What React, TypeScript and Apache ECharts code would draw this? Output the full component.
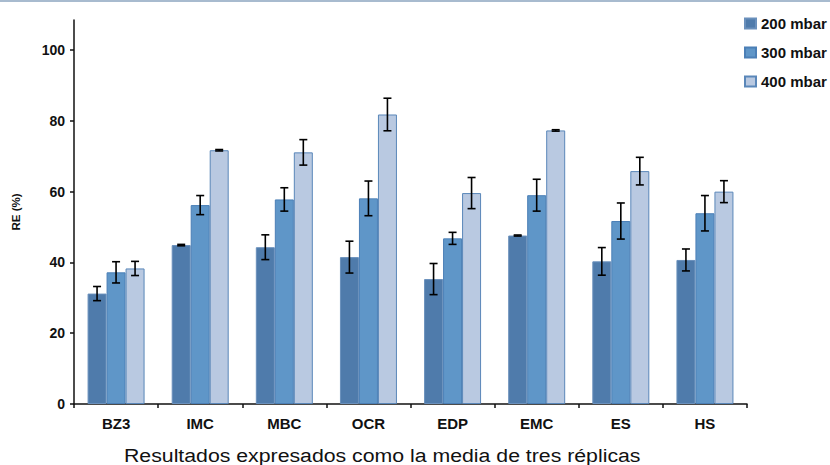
import React, { useEffect, useRef } from "react";
import * as echarts from "echarts";

const categories = ["BZ3", "IMC", "MBC", "OCR", "EDP", "EMC", "ES", "HS"];
const seriesNames = ["200 mbar", "300 mbar", "400 mbar"];
const values200 = [31.2, 44.9, 44.3, 41.5, 35.3, 47.6, 40.3, 40.7];
const values300 = [37.2, 56.2, 57.8, 58.1, 46.8, 59.0, 51.7, 53.9];
const values400 = [38.3, 71.7, 71.1, 81.8, 59.6, 77.3, 65.8, 60.0];
const err200 = [2.0, 0.2, 3.5, 4.5, 4.4, 0.15, 3.9, 3.1];
const err300 = [3.0, 2.7, 3.3, 4.9, 1.7, 4.5, 5.1, 5.0];
const err400 = [2.0, 0.2, 3.6, 4.6, 4.4, 0.2, 3.9, 3.1];
const yTicks = [0, 20, 40, 60, 80, 100];
const xTitle = "Resultados expresados como la media de tres réplicas";
const yTitle = "RE (%)";

const FONT = "'Liberation Sans', Arial, Helvetica, sans-serif";
const BAR_W = 19;

export default function App() {
  const ref = useRef<HTMLDivElement>(null);
  useEffect(() => {
    if (!ref.current) return;
    const chart = echarts.init(ref.current, undefined, { renderer: "svg" });
    const values = [values200, values300, values400];
    const errs = [err200, err300, err400];
    const fills = ["#4F7BAB", "#5F96C8", "#B9C9E1"];
    const borders = ["#6A90BC", "#4B7FB6", "#5A87B9"];

    const barSeries = values.map((vals, i) => ({
      name: seriesNames[i],
      type: "bar",
      data: vals,
      barWidth: BAR_W,
      barGap: "0%",
      itemStyle: { color: fills[i], borderColor: borders[i], borderWidth: 1 },
      z: 2,
    }));

    const errSeries = values.map((vals, i) => ({
      name: seriesNames[i] + " err",
      type: "custom",
      data: vals.map((v, j) => [j, v, errs[i][j]]),
      encode: { x: 0, y: 1 },
      z: 5,
      silent: true,
      renderItem: (params: any, api: any) => {
        const idx = api.value(0);
        const v = api.value(1);
        const e = api.value(2);
        const off = (i - 1) * BAR_W;
        const hi = api.coord([idx, v + e]);
        const lo = api.coord([idx, v - e]);
        const x = hi[0] + off;
        const cap = 4;
        const style = { stroke: "#000", lineWidth: 1.6 };
        return {
          type: "group",
          children: [
            { type: "line", shape: { x1: x, y1: hi[1], x2: x, y2: lo[1] }, style },
            { type: "line", shape: { x1: x - cap, y1: hi[1], x2: x + cap, y2: hi[1] }, style },
            { type: "line", shape: { x1: x - cap, y1: lo[1], x2: x + cap, y2: lo[1] }, style },
          ],
        };
      },
    }));

    chart.setOption({
      animation: false,
      backgroundColor: "#ffffff",
      textStyle: { fontFamily: FONT },
      grid: { left: 74, right: 83, top: 20, bottom: 61, containLabel: false },
      legend: {
        data: seriesNames,
        orient: "vertical",
        left: 739,
        top: 11,
        itemWidth: 11,
        itemHeight: 10,
        itemGap: 14,
        icon: "rect",
        textStyle: { fontFamily: FONT, fontSize: 15, fontWeight: "bold", color: "#111" },
      },
      xAxis: {
        type: "category",
        data: categories,
        axisLine: { lineStyle: { color: "#111", width: 1.5 } },
        axisTick: { show: true, length: 4, lineStyle: { color: "#111", width: 1.5 } },
        axisLabel: { fontFamily: FONT, fontSize: 15, fontWeight: "bold", color: "#111", margin: 12 },
      },
      yAxis: {
        type: "value",
        min: 0,
        max: 108.5,
        interval: 20,
        name: yTitle,
        nameLocation: "middle",
        nameGap: 52,
        nameTextStyle: { fontFamily: FONT, fontSize: 11.5, fontWeight: "bold", color: "#111" },
        axisLine: { show: true, lineStyle: { color: "#111", width: 1.5 } },
        axisTick: { show: true, length: 4, customValues: yTicks, lineStyle: { color: "#111", width: 1.5 } },
        axisLabel: {
          customValues: yTicks,
          fontFamily: FONT,
          fontSize: 14,
          fontWeight: "bold",
          color: "#111",
          margin: 9,
          formatter: (v: number) => (v % 20 === 0 ? String(v) : ""),
        },
        splitLine: { show: false },
      },
      graphic: [
        { type: "rect", left: 0, top: 0, shape: { width: 830, height: 2 }, style: { fill: "#A8BBCF" } },
        {
          type: "text",
          x: 124,
          y: 455,
          scaleX: 1.12,
          style: {
            text: xTitle,
            fontFamily: FONT,
            fontSize: 19,
            fill: "#111",
            textAlign: "left",
            textVerticalAlign: "middle",
          },
        },
      ],
      series: [...barSeries, ...errSeries],
    });
    return () => chart.dispose();
  }, []);
  return <div ref={ref} style={{ width: 830, height: 465, position: "absolute", left: 0, top: 0 }} />;
}
